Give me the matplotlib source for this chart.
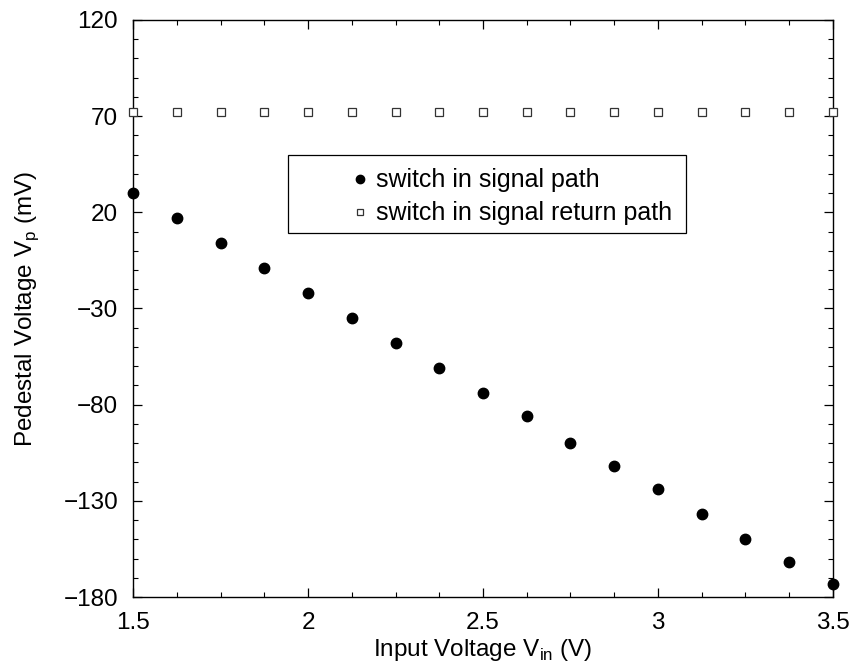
import numpy as np
import matplotlib.pyplot as plt
from matplotlib.patches import Rectangle
from matplotlib.ticker import MultipleLocator, FuncFormatter

plt.rcParams['font.family'] = ['Liberation Sans', 'DejaVu Sans']
plt.rcParams['mathtext.fontset'] = 'custom'
plt.rcParams['mathtext.rm'] = 'Liberation Sans'

# Dati
v_in = [1.5, 1.625, 1.75, 1.875, 2.0, 2.125, 2.25, 2.375, 2.5,
        2.625, 2.75, 2.875, 3.0, 3.125, 3.25, 3.375, 3.5]
vp_signal = [30.2, 17.2, 3.9, -8.9, -21.9, -34.9, -47.8, -61.1, -73.9,
             -85.9, -100.1, -112.1, -124.0, -137.0, -150.0, -162.0, -173.1]
vp_return = [72.2] * 17

fig = plt.figure(figsize=(8.51, 6.66), dpi=100)
ax = fig.add_axes([0.1567, 0.1036, 0.8218, 0.8664])

ax.plot(v_in, vp_signal, 'o', color='black', markersize=7.5, clip_on=False,
        label='switch in signal path', zorder=3)
ax.plot(v_in, vp_return, 's', markerfacecolor='white', markeredgecolor='#333333',
        markeredgewidth=0.9, markersize=6, clip_on=False,
        label='switch in signal return path', zorder=3)

ax.set_xlim(1.5, 3.5)
ax.set_ylim(-180, 120)
ax.xaxis.set_major_locator(MultipleLocator(0.5))
ax.xaxis.set_minor_locator(MultipleLocator(0.125))
ax.yaxis.set_minor_locator(MultipleLocator(10))
ax.set_yticks(np.arange(-180, 121, 50))
ax.xaxis.set_major_formatter(FuncFormatter(lambda v, p: ('%g' % v)))
ax.yaxis.set_major_formatter(FuncFormatter(lambda v, p: ('%d' % v).replace('-', '\u2212')))

ax.tick_params(which='both', direction='in', top=True, right=True, labelsize=17.5)
ax.tick_params(which='major', length=6.5, width=0.9)
ax.tick_params(which='minor', length=3.6, width=0.8)
ax.tick_params(axis='x', which='major', pad=11)
ax.tick_params(axis='y', which='major', pad=11)
for s in ax.spines.values():
    s.set_linewidth(1.0)

ax.set_xlabel(r'Input Voltage V$_\mathregular{in}$ (V)', fontsize=17.5, labelpad=2)
ax.set_ylabel(r'Pedestal Voltage V$_\mathregular{p}$ (mV)', fontsize=17.5, labelpad=16)

# Riquadro della legenda
ax.add_patch(Rectangle((0.2212, 0.631), 0.569, 0.135, transform=ax.transAxes,
                       facecolor='white', edgecolor='black', linewidth=0.9, zorder=4))

leg = ax.legend(loc='upper left', bbox_to_anchor=(0.3134, 0.743),
                fontsize=18, frameon=False, markerscale=0.8, handlelength=0.6,
                handletextpad=0.35, borderpad=0, labelspacing=0.36,
                borderaxespad=0)
leg.set_zorder(5)

fig.savefig('out.png', dpi=100)
